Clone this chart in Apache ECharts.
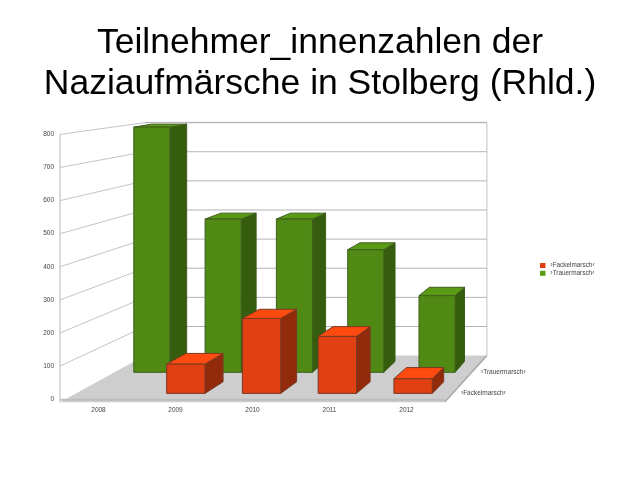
<!DOCTYPE html>
<html><head><meta charset="utf-8">
<style>html,body{margin:0;padding:0;background:#fff}#c{width:640px;height:480px}</style>
<script src="https://cdn.jsdelivr.net/npm/echarts@6/dist/echarts.min.js"></script>
</head><body><div id="c"></div>
<script>
const titleText = 'Teilnehmer_innenzahlen der\nNaziaufmärsche in Stolberg (Rhld.)';
const categories = ['2008','2009','2010','2011','2012'];
const fackelName = '›Fackelmarsch‹';
const trauerName = '›Trauermarsch‹';
const fackelValues = [null, 90, 230, 175, 45];
const trauerValues = [800, 500, 500, 400, 250];
const yTicks = [0,100,200,300,400,500,600,700,800];

const VX = 819, VY = 36, BACK_X = 0.888, BACK_Y = 0.88;
const FONT = '"Liberation Sans", Arial, sans-serif';
const project = (p, sx, sy) => [VX + sx * (p[0] - VX), VY + (sy === undefined ? sx : sy) * (p[1] - VY)];

function box(api, s0, s1x, s1y, front, side, top, edge) {
  const i = api.value(0), v = api.value(1);
  if (v == null || isNaN(v)) return null;
  const hw = api.size([1, 0])[0] * 0.253;
  const b = api.coord([i, 0]), t = api.coord([i, v]);
  const bl = [b[0] - hw, b[1]], br = [b[0] + hw, b[1]], tl = [b[0] - hw, t[1]], tr = [b[0] + hw, t[1]];
  const F = p => project(p, s0), B = p => project(p, s1x, s1y);
  const poly = (pts, fill) => ({ type: 'polygon', shape: { points: pts }, style: { fill, stroke: edge, lineWidth: 1, lineJoin: 'round' } });
  return { type: 'group', children: [
    poly([F(br), F(tr), B(tr), B(br)], side),
    poly([F(tl), F(tr), B(tr), B(tl)], top),
    poly([F(bl), F(br), F(tr), F(tl)], front)
  ]};
}

const option = {
  animation: false,
  backgroundColor: '#ffffff',
  title: { text: titleText, left: 320, top: 23, textAlign: 'center', padding: 0,
    textStyle: { fontFamily: FONT, fontSize: 35.5, fontWeight: 'normal', color: '#000', lineHeight: 41, align: 'center' } },
  legend: { orient: 'vertical', left: 540, top: 262.5, padding: 0, itemWidth: 5.5, itemHeight: 5, itemGap: 1.8,
    icon: 'rect', data: [fackelName, trauerName], selectedMode: false,
    textStyle: { fontFamily: FONT, fontSize: 6.4, color: '#444' } },
  grid: { left: 60, right: 195, top: 134.4, bottom: 80.8 },
  xAxis: { type: 'category', data: categories, boundaryGap: true,
    axisLine: { show: false }, axisTick: { show: false }, splitLine: { show: false },
    axisLabel: { fontFamily: FONT, fontSize: 6.5, color: '#444', margin: 7.5 } },
  yAxis: { type: 'value', min: 0, max: 800, interval: 100,
    axisLine: { show: false }, axisTick: { show: false }, splitLine: { show: false },
    axisLabel: { fontFamily: FONT, fontSize: 6.5, color: '#444', margin: 6 } },
  series: [
    { type: 'custom', name: 'walls', silent: true, z: 1, data: [[0, 800]],
      renderItem: (p, api) => {
        const a = api.coord([0, 0]), c = api.coord([4, 0]);
        const hw = api.size([1, 0])[0] / 2;
        const fl = [a[0] - hw, a[1]], fr = [c[0] + hw, c[1]];
        const tl = [fl[0], api.coord([0, 800])[1]], tr = [fr[0], tl[1]];
        const bl = project(fl, BACK_X, BACK_Y), br = project(fr, BACK_X, BACK_Y), btl = project(tl, BACK_X, BACK_Y), btr = project(tr, BACK_X, BACK_Y);
        const ln = (a, b, col, w) => ({ type: 'line', shape: { x1: a[0], y1: a[1], x2: b[0], y2: b[1] }, style: { stroke: col, lineWidth: w } });
        return { type: 'group', children: [
          { type: 'polygon', shape: { points: [[fl[0], fl[1] + 3], bl, br, [fr[0], fr[1] + 3]] }, style: { fill: '#cecece' } },
          { type: 'rect', shape: { x: fl[0], y: fl[1] - 0.5, width: fr[0] - fl[0], height: 2 }, style: { fill: '#bdbdbd' } },
          ln([fr[0], fr[1] + 2.5], br, '#a8a8a8', 1.5),
          ln(tl, [fl[0], fl[1] + 3], '#cfcfcf', 1.5),
          ln(btr, br, '#d6d6d6', 1.5),
          ln(btl, btr, '#d6d6d6', 1.5)
        ]};
      } },
    { type: 'custom', name: 'gridlines', silent: true, z: 2, data: yTicks.map(v => [0, v]),
      renderItem: (p, api) => {
        const v = api.value(1);
        if (v === 0) return null;
        const hw = api.size([1, 0])[0] / 2;
        const L = [api.coord([0, v])[0] - hw, api.coord([0, v])[1]];
        const R = [api.coord([4, v])[0] + hw, L[1]];
        const bl = project(L, BACK_X, BACK_Y), br = project(R, BACK_X, BACK_Y);
        return { type: 'group', children: [
          { type: 'line', shape: { x1: L[0], y1: L[1], x2: bl[0], y2: bl[1] }, style: { stroke: '#c4c4c4', lineWidth: 1 } },
          { type: 'line', shape: { x1: bl[0], y1: bl[1], x2: br[0], y2: br[1] }, style: { stroke: '#b4b4b4', lineWidth: 1 } }
        ]};
      } },
    { type: 'custom', name: trauerName, z: 3, itemStyle: { color: '#5a9a14' },
      data: trauerValues.map((v, i) => [i, v]),
      renderItem: (p, api) => box(api, 0.926, 0.902, 0.896, '#508a14', '#365c0d', '#5a9a14', '#3f5f1e') },
    { type: 'custom', name: fackelName, z: 4, itemStyle: { color: '#e04010' },
      data: fackelValues.map((v, i) => [i, v]),
      renderItem: (p, api) => box(api, 0.984, 0.955, 0.952, '#e04012', '#922a0c', '#ff4a10', '#7a3a22') },
    { type: 'custom', name: 'rows', silent: true, z: 5,
      data: [[4, 0, 0.984, 10], [4, 0, 0.925, 8]],
      renderItem: (p, api) => {
        const c = api.coord([4, 0]);
        const hw = api.size([1, 0])[0] / 2;
        const q = project([c[0] + hw, c[1]], api.value(2));
        return { type: 'text', x: q[0] + api.value(3), y: q[1], style: {
          text: p.dataIndex === 0 ? fackelName : trauerName, fontFamily: FONT, fontSize: 6.5, fill: '#444', align: 'left', verticalAlign: 'middle' } };
      } }
  ]
};
const chart = echarts.init(document.getElementById('c'), null, { renderer: 'canvas' });
chart.setOption(option);
</script></body></html>
